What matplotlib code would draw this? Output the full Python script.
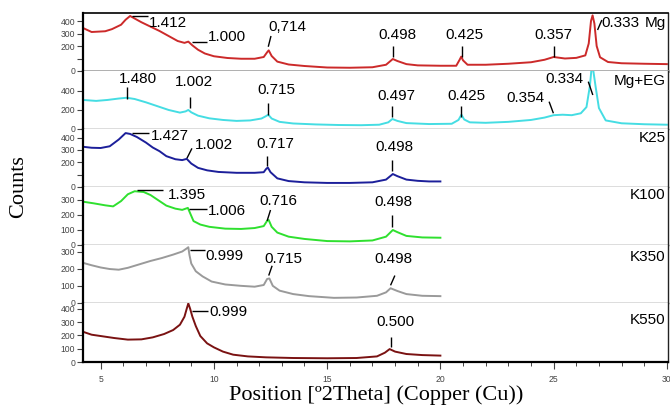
import matplotlib
matplotlib.use("Agg")
import matplotlib.pyplot as plt
from matplotlib.ticker import FixedLocator, MultipleLocator

# ---- diffraction patterns (2theta in degrees, counts) ----
tt_mg = [4.22, 4.6, 5.2, 5.5, 5.9, 6.1, 6.3, 6.5, 6.8, 7.2, 7.6, 8.0, 8.4, 8.7,
         8.87, 9.05, 9.3, 9.6, 10.0, 10.6, 11.2, 11.8, 12.2, 12.35, 12.42, 12.55,
         12.8, 13.3, 14.0, 15.0, 16.0, 17.0, 17.6, 17.9, 18.1, 18.5, 19.0, 20.0,
         20.7, 20.85, 20.92, 21.0, 21.2, 22.0, 23.0, 24.0, 24.6, 25.0, 25.5, 26.0,
         26.4, 26.55, 26.65, 26.72, 26.8, 26.9, 27.05, 27.4, 28.0, 29.0, 30.0]
cts_mg = [344, 312, 318, 335, 370, 410, 440, 420, 390, 355, 320, 280, 240, 225,
          235, 205, 170, 140, 118, 104, 98, 98, 112, 150, 165, 120,
          75, 52, 40, 28, 26, 30, 50, 96, 80, 55, 45, 42,
          42, 90, 115, 85, 50, 50, 58, 70, 90, 112, 100, 105,
          125, 220, 400, 445, 380, 200, 110, 72, 62, 58, 55]

tt_mgeg = [4.22, 4.8, 5.3, 5.8, 6.15, 6.5, 7.0, 7.5, 8.0, 8.5, 8.75, 8.87, 9.0,
           9.3, 9.8, 10.4, 11.0, 11.6, 12.1, 12.3, 12.4, 12.55, 12.9, 13.5, 14.5,
           15.5, 16.5, 17.3, 17.7, 17.88, 18.1, 18.5, 19.5, 20.5, 20.8, 20.93,
           21.05, 21.3, 22.0, 23.0, 24.0, 24.6, 25.0, 25.4, 25.8, 26.2, 26.45,
           26.6, 26.7, 26.85, 27.0, 27.3, 28.0, 29.0, 30.0]
cts_mgeg = [305, 295, 305, 320, 328, 315, 280, 240, 200, 172, 185, 200, 175,
            140, 112, 95, 85, 90, 110, 135, 150, 110, 75, 58, 48,
            42, 40, 45, 70, 105, 85, 62, 52, 55, 95, 150,
            100, 70, 65, 75, 95, 120, 145, 150, 145, 165, 230,
            450, 700, 450, 220, 90, 60, 50, 45]

tt_k25 = [4.22, 4.6, 5.0, 5.4, 5.8, 6.1, 6.3, 6.6, 7.0, 7.3, 7.6, 7.9, 8.3, 8.6,
          8.8, 9.0, 9.3, 9.7, 10.2, 11.0, 11.8, 12.2, 12.3, 12.38, 12.5, 12.8,
          13.3, 14.0, 15.0, 16.0, 17.0, 17.6, 17.9, 18.1, 18.5, 19.0, 19.5, 20.0]
cts_k25 = [326, 318, 316, 330, 385, 437, 430, 405, 360, 320, 290, 250, 225, 218,
           228, 190, 155, 135, 122, 115, 115, 120, 145, 158, 120, 70,
           48, 38, 33, 33, 38, 60, 105, 88, 60, 50, 45, 45]

tt_k100 = [4.22, 4.7, 5.2, 5.55, 5.9, 6.2, 6.5, 6.9, 7.2, 7.5, 7.9, 8.3, 8.6,
           8.85, 8.95, 9.1, 9.4, 9.8, 10.5, 11.2, 11.8, 12.2, 12.35, 12.42, 12.55,
           12.8, 13.3, 14.0, 15.0, 16.0, 17.0, 17.6, 17.9, 18.1, 18.5, 19.2, 20.0]
cts_k100 = [286, 275, 262, 255, 290, 335, 355, 350, 330, 300, 260, 240, 232,
            245, 210, 158, 135, 120, 108, 106, 112, 125, 160, 165, 120,
            82, 55, 40, 26, 24, 30, 55, 99, 85, 60, 50, 48]

tt_k350 = [4.22, 4.6, 5.0, 5.4, 5.8, 6.2, 6.7, 7.2, 7.7, 8.2, 8.6, 8.8, 8.87,
           8.92, 9.0, 9.2, 9.5, 9.9, 10.5, 11.2, 11.8, 12.2, 12.35, 12.45, 12.6,
           12.9, 13.5, 14.2, 15.3, 16.3, 17.2, 17.6, 17.8, 18.1, 18.5, 19.2, 20.0]
cts_k350 = [234, 220, 207, 198, 194, 205, 225, 245, 262, 282, 300, 318, 325,
            280, 230, 185, 155, 125, 108, 100, 95, 105, 140, 143, 100,
            72, 52, 40, 30, 32, 42, 62, 86, 70, 52, 42, 40]

tt_k550 = [4.22, 4.6, 5.0, 5.6, 6.2, 6.8, 7.3, 7.8, 8.2, 8.5, 8.7, 8.8, 8.87,
           8.95, 9.05, 9.2, 9.4, 9.7, 10.0, 10.4, 10.85, 11.5, 12.3, 13.5, 15.0,
           16.3, 17.2, 17.55, 17.76, 18.0, 18.5, 19.2, 20.0]
cts_k550 = [227, 205, 195, 180, 168, 170, 185, 210, 240, 280, 340, 400, 440,
            400, 340, 270, 195, 140, 110, 78, 55, 42, 35, 30, 28,
            30, 42, 70, 97, 78, 60, 52, 48]

sample_names = ["Mg", "Mg+EG", "K25", "K100", "K350", "K550"]
d_mg = ["1.412", "1.000", "0,714", "0.498", "0.425", "0.357", "0.333"]
d_mgeg = ["1.480", "1.002", "0.715", "0.497", "0.425", "0.354", "0.334"]
d_k25 = ["1.427", "1.002", "0.717", "0.498"]
d_k100 = ["1.395", "1.006", "0.716", "0.498"]
d_k350 = ["0.999", "0.715", "0.498"]
d_k550 = ["0.999", "0.500"]
x_ticks = [5, 10, 15, 20, 25, 30]

# ---- styling per panel ----
colors = ["#cc2a2a", "#45dde3", "#1c1f9a", "#2fe02f", "#9a9a9a", "#7a1212"]
ylims = [464, 609, 470, 383, 338, 443]
yticks = [[0, 100, 200, 300, 400], [0, 200, 400], [0, 100, 200, 300, 400],
          [0, 100, 200, 300], [0, 100, 200, 300], [0, 100, 200, 300, 400]]
ylabeled = [[0, 200, 300, 400], [0, 200, 400], [0, 200, 300, 400],
            [0, 100, 200, 300], [0, 100, 200, 300], [0, 100, 200, 300, 400]]
name_y = [388, 499, 397, 330, 268, 315]

# annotation layout: (text x, text y, ha, leader x0, y0, x1, y1)
ann_layout = [
    [(7.15, 384, "left", 6.4, 440, 7.1, 440),
     (9.72, 274, "left", 9.04, 234, 9.68, 234),
     (12.42, 354, "left", 12.4, 194, 12.52, 280),
     (18.1, 288, "center", 17.92, 115, 17.92, 200),
     (21.06, 288, "center", 20.95, 115, 20.95, 200),
     (25.0, 288, "center", 25.0, 115, 25.0, 200),
     (27.12, 381, "left", 26.94, 328, 27.13, 408)],
    [(6.63, 525, "center", 6.15, 315, 6.15, 441),
     (9.12, 497, "center", 8.95, 220, 8.95, 339),
     (12.76, 410, "center", 12.39, 147, 12.39, 273),
     (18.07, 350, "center", 17.88, 129, 17.88, 241),
     (21.17, 350, "center", 20.93, 129, 20.93, 241),
     (23.75, 322, "center", 24.8, 287, 24.99, 165),
     (25.46, 522, "center", 26.53, 497, 26.73, 357)],
    [(7.2, 413, "left", 6.37, 437, 7.13, 437),
     (9.14, 340, "left", 8.81, 233, 9.03, 313),
     (12.7, 348, "center", 12.35, 170, 12.35, 251),
     (17.96, 322, "center", 17.88, 132, 17.88, 219)],
    [(7.95, 330, "left", 6.59, 363, 7.77, 363),
     (9.72, 226, "left", 8.92, 238, 9.69, 238),
     (12.85, 292, "center", 12.35, 160, 12.5, 231),
     (17.94, 286, "center", 17.88, 121, 17.88, 198)],
    [(9.64, 274, "left", 8.95, 308, 9.6, 308),
     (13.07, 259, "center", 12.42, 160, 12.57, 217),
     (17.94, 259, "center", 17.8, 103, 17.99, 160)],
    [(9.8, 377, "left", 9.03, 385, 9.72, 385),
     (18.03, 302, "center", 17.8, 110, 17.8, 190)],
]

series = [(tt_mg, cts_mg, d_mg), (tt_mgeg, cts_mgeg, d_mgeg),
          (tt_k25, cts_k25, d_k25), (tt_k100, cts_k100, d_k100),
          (tt_k350, cts_k350, d_k350), (tt_k550, cts_k550, d_k550)]

W, H = 670, 408
fig = plt.figure(figsize=(W / 100, H / 100), dpi=100)
bounds_px = [13, 71, 129, 187, 245, 303, 362]
left_px, right_px = 83, 668

sans = "Liberation Sans"
for i, (tt, cts, dlabels) in enumerate(series):
    top, bot = bounds_px[i], bounds_px[i + 1]
    ax = fig.add_axes([left_px / W, 1 - bot / H, (right_px - left_px) / W, (bot - top) / H])
    ax.plot(tt, cts, color=colors[i], lw=1.4, solid_joinstyle="round")
    ax.set_xlim(4.22, 30.05)
    ax.set_ylim(0, ylims[i])

    # spines
    ax.spines["left"].set_linewidth(1.6)
    ax.spines["left"].set_color("black")
    ax.spines["right"].set_linewidth(1.0)
    ax.spines["right"].set_color("#222222")
    if i == 0:
        ax.spines["top"].set_linewidth(1.2)
        ax.spines["top"].set_color("black")
    else:
        ax.spines["top"].set_visible(False)
    if i == 0:
        ax.spines["bottom"].set_color("#a8a8a8")
        ax.spines["bottom"].set_linewidth(2.0)
    elif i < 5:
        ax.spines["bottom"].set_color("#555555")
        ax.spines["bottom"].set_linewidth(1.0)
    else:
        ax.spines["bottom"].set_color("black")
        ax.spines["bottom"].set_linewidth(1.6)

    # y ticks
    ax.yaxis.set_major_locator(FixedLocator(yticks[i]))
    ax.set_yticklabels([str(v) if v in ylabeled[i] else "" for v in yticks[i]])
    ax.tick_params(axis="y", direction="out", length=4, width=0.8, color="#444444",
                   labelsize=6.2, labelcolor="#444444", pad=1.5)
    for lab in ax.get_yticklabels():
        lab.set_fontfamily(sans)

    # x ticks only on the bottom panel
    if i < 5:
        ax.tick_params(axis="x", bottom=False, labelbottom=False)
    else:
        ax.xaxis.set_major_locator(FixedLocator(x_ticks))
        ax.xaxis.set_minor_locator(MultipleLocator(1))
        ax.tick_params(axis="x", which="major", direction="out", length=5, width=0.8,
                       color="#444444", labelsize=6.2, labelcolor="#444444", pad=4)
        ax.tick_params(axis="x", which="minor", direction="out", length=3, width=0.7,
                       color="#444444")
        for lab in ax.get_xticklabels():
            lab.set_fontfamily(sans)

    # sample name
    ax.text(29.95, name_y[i], sample_names[i], ha="right", va="center",
            fontsize=11, family=sans, color="black")

    # peak labels with leader lines
    for lab, (tx, ty, ha, x0, y0, x1, y1) in zip(dlabels, ann_layout[i]):
        ax.plot([x0, x1], [y0, y1], color="black", lw=1.0, solid_capstyle="butt")
        ax.text(tx, ty, lab, ha=ha, va="center", fontsize=11, family=sans, color="black")

fig.text(19 / W, 1 - 187 / H, "Counts", rotation=90, ha="center", va="center",
         fontsize=16, family="Liberation Serif")
fig.text(376 / W, 1 - 395 / H, "Position [º2Theta] (Copper (Cu))", ha="center",
         va="center", fontsize=16, family="Liberation Serif")

fig.savefig("out.png", dpi=100)
